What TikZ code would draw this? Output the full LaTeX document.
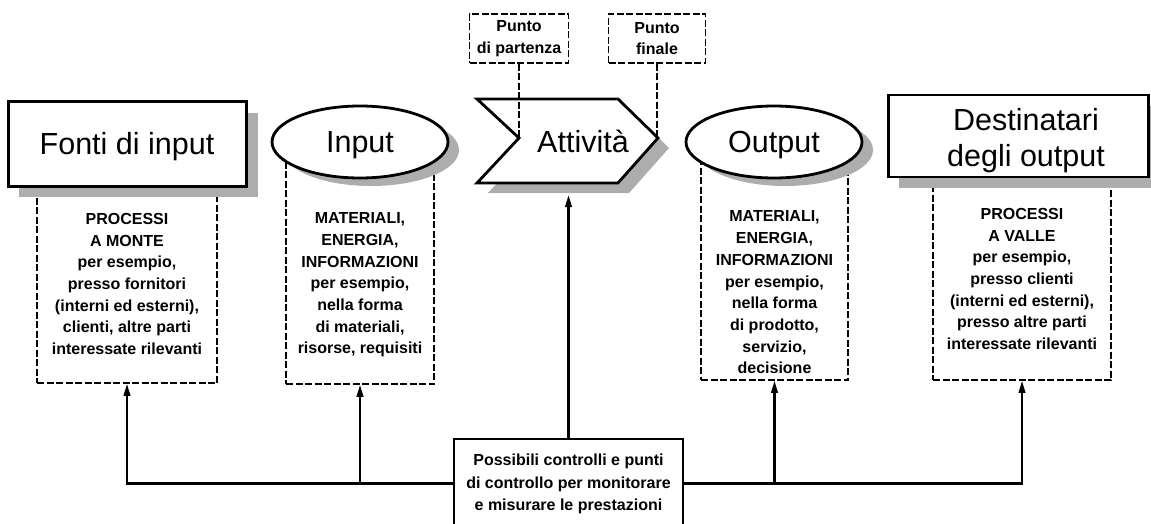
\documentclass[tikz,border=0pt]{standalone}
\usepackage{fontspec}
\setmainfont{Liberation Sans}
\usetikzlibrary{arrows.meta,shapes.geometric}
\begin{document}
\begin{tikzpicture}[x=1pt,y=-1pt,
  titlebox/.style={draw, line width=3pt, fill=white, inner sep=0pt},
  shade/.style={fill=black!32, draw=none},
  dbox/.style={draw, line width=1.5pt, dash pattern=on 7pt off 2.5pt, inner sep=0pt},
  body/.style={font=\bfseries\fontsize{16}{21.7}\selectfont, align=center, inner sep=0pt},
  title/.style={font=\fontsize{30.5}{36}\selectfont, align=center, inner sep=0pt},
  onel/.style={text height=21.8pt, text depth=0pt},
  conn/.style={line width=2.2pt},
  arr/.style={conn, -{Triangle[length=12pt,width=6.5pt]}},
  lead/.style={line width=1.5pt, dash pattern=on 7pt off 2.5pt}
]
\useasboundingbox (0,0) rectangle (1151,524);

% dashed description boxes
\node[dbox, minimum width=180pt, minimum height=193pt] (srcbox) at (127,286.5) {};
\node[dbox, minimum width=148pt, minimum height=234pt] (inbox) at (360,267) {};
\node[dbox, minimum width=147pt, minimum height=230pt] (outbox) at (774.5,265) {};
\node[dbox, minimum width=178pt, minimum height=195pt] (destbox) at (1022,282.5) {};

\node[body] (srctxt) at (127,284) {PROCESSI\\A MONTE\\per esempio,\\presso fornitori\\(interni ed esterni),\\clienti, altre parti\\interessate rilevanti};
\node[body] (intxt) at (360,285) {MATERIALI,\\ENERGIA,\\INFORMAZIONI\\per esempio,\\nella forma\\di materiali,\\risorse, requisiti};
\node[body] (outtxt) at (774.5,292.5) {MATERIALI,\\ENERGIA,\\INFORMAZIONI\\per esempio,\\nella forma\\di prodotto,\\servizio,\\decisione};
\node[body] (desttxt) at (1022,279) {PROCESSI\\A VALLE\\per esempio,\\presso clienti\\(interni ed esterni),\\presso altre parti\\interessate rilevanti};

% shadows
\fill[shade] (19,113) rectangle (258,197);
\fill[shade] (371,150) ellipse [x radius=88pt, y radius=36pt];
\fill[shade] (488,109) -- (629,109) -- (669,148) -- (629,193) -- (488,193) -- (529,148) -- cycle;
\fill[shade] (785,150) ellipse [x radius=88pt, y radius=36pt];
\fill[shade] (899,106) rectangle (1160,188);

% main shapes
\node[titlebox, minimum width=238pt, minimum height=84pt, title, onel] (src) at (127,144) {Fonti di input};
\node[titlebox, ellipse, line width=2.8pt, minimum width=176pt, minimum height=72pt, title, onel] (in) at (360,142) {Input};
\draw[line width=2.8pt, fill=white, line join=miter] (477,99) -- (618,99) -- (658,138) -- (618,183) -- (477,183) -- (519,138) -- cycle;
\coordinate (notch) at (519,138);
\coordinate (tip) at (658,138);
\coordinate (actbot) at (568.5,195);
\node[title, onel] (act) at (583,142) {Attività};
\node[titlebox, ellipse, line width=2.8pt, minimum width=176pt, minimum height=72pt, title, onel] (out) at (774,142) {Output};
\node[titlebox, line width=2.8pt, minimum width=260pt, minimum height=82pt] (dest) at (1018.5,136) {};
\node[title] (desttitle) at (1026,141) {Destinatari\\degli output};

% start / end points
\node[dbox, body, minimum width=99pt, minimum height=49pt] (start) at (519,38.5) {Punto\\di partenza};
\node[dbox, body, minimum width=97pt, minimum height=49pt] (fin) at (657,38.5) {Punto\\finale};
\draw[lead] (start.south) -- (notch);
\draw[lead] (fin.south) -- (fin.south |- tip);

% control box
\node[titlebox, line width=2.8pt, minimum width=229pt, minimum height=89pt] (ctrl) at (568.5,483.5) {};
\node[body, font=\bfseries\fontsize{16}{22.5}\selectfont] (ctrltxt) at (568.5,484) {Possibili controlli e punti\\di controllo per monitorare\\e misurare le prestazioni};

% connectors
\draw[arr] (ctrl.west) -| (srcbox.south);
\draw[arr] (ctrl.west -| inbox.south) -- (inbox.south);
\draw[arr] (ctrl.east) -| (destbox.south);
\draw[arr] (ctrl.east -| outbox.south) -- (outbox.south);
\draw[arr] (ctrl.north) -- (actbot);
\end{tikzpicture}
\end{document}
